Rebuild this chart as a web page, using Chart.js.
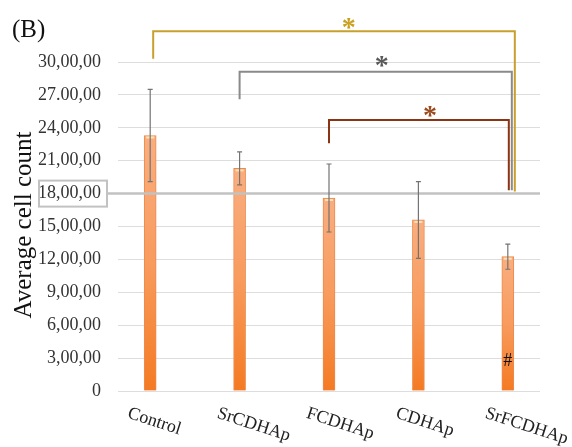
<!DOCTYPE html>
<html>
<head>
<meta charset="utf-8">
<script src="https://cdn.jsdelivr.net/npm/chart.js@4.4.0/dist/chart.umd.min.js"></script>
<style>
  html, body { margin: 0; padding: 0; background: #fff; }
  #wrap { width: 572px; height: 447px; }
</style>
</head>
<body>
<div id="wrap"><canvas id="cellChart"></canvas></div>
<script>
const groups = ['Control', 'SrCDHAp', 'FCDHAp', 'CDHAp', 'SrFCDHAp'];
const meanCount = [23.3, 20.3, 17.6, 15.6, 12.25];
const errCount = [4.2, 1.5, 3.1, 3.5, 1.15];
const tickValues = [0, 3, 6, 9, 12, 15, 18, 21, 24, 27, 30];
const tickLabels = ['0', '3,00,00', '6,00,00', '9,00,00', '12,00,00', '15,00,00',
  '18,00,00', '21,00,00', '24,00,00', '27.00,00', '30,00,00'];

// significance brackets, all ending at SrFCDHAp
const bracketFrom = [0, 1, 2];
const bracketTop = [32.8, 29.1, 24.7];
const bracketLow = [30.3, 26.6, 22.6];
const bracketEnd = [18.2, 18.3, 18.3];
const bracketColor = ['#C8A02E', '#8A8A8A', '#8B3413'];
const starColor = ['#C9A020', '#595959', '#9C4A1C'];
const starX = [2.22, 2.59, 3.13];
const starY = [33.6, 30.1, 25.5];
const hashGroup = 4;
const hashValue = 2.7;
const markedLine = 18;

const serif = "'Liberation Serif', 'Times New Roman', serif";

function barFill(ctx) {
  const chart = ctx.chart;
  const ys = chart.scales.y;
  if (!chart.chartArea || !ys) return '#F7954A';
  const top = ys.getPixelForValue(meanCount[ctx.dataIndex]);
  const bottom = ys.getPixelForValue(0);
  const g = chart.ctx.createLinearGradient(0, top, 0, bottom);
  g.addColorStop(0, '#F9AE80');
  g.addColorStop(0.5, '#F89B5E');
  g.addColorStop(1, '#F47A22');
  return g;
}

const decor = {
  id: 'decor',
  afterDatasetsDraw(chart) {
    const c = chart.ctx;
    const xs = chart.scales.x, ys = chart.scales.y;
    const area = chart.chartArea;
    c.save();
    // pale caps on bar tops
    meanCount.forEach((v, i) => {
      const x = xs.getPixelForValue(i), y = ys.getPixelForValue(v);
      c.fillStyle = '#FCE2B8';
      c.fillRect(x - 4, y + 1, 8, 2);
    });
    // the marked 18 line runs over the bars, with a box round its label
    const y18 = ys.getPixelForValue(markedLine);
    c.strokeStyle = '#c2c2c2';
    c.lineWidth = 2.5;
    c.beginPath();
    c.moveTo(area.left - 11, y18); c.lineTo(area.right, y18);
    c.stroke();
    c.lineWidth = 2;
    c.strokeRect(39, y18 - 13, area.left - 50, 26);
    // error bars
    c.strokeStyle = '#737373';
    c.lineWidth = 1.2;
    meanCount.forEach((v, i) => {
      const x = xs.getPixelForValue(i);
      const yt = ys.getPixelForValue(v + errCount[i]);
      const yb = ys.getPixelForValue(v - errCount[i]);
      c.beginPath();
      c.moveTo(x, yt); c.lineTo(x, yb);
      c.moveTo(x - 2.5, yt); c.lineTo(x + 2.5, yt);
      c.moveTo(x - 2.5, yb); c.lineTo(x + 2.5, yb);
      c.stroke();
    });
    // hash mark
    c.fillStyle = '#111';
    c.font = '18px ' + serif;
    c.textAlign = 'center';
    c.textBaseline = 'middle';
    c.fillText('#', xs.getPixelForValue(hashGroup), ys.getPixelForValue(hashValue));
    c.restore();
  },
  afterDraw(chart) {
    const c = chart.ctx;
    const xs = chart.scales.x, ys = chart.scales.y;
    const area = chart.chartArea;
    c.save();
    // brackets
    const rightShift = [7, 4, 1];
    bracketFrom.forEach((g, k) => {
      const x0 = xs.getPixelForValue(g) + (k === 0 ? 3 : 0);
      const x1 = xs.getPixelForValue(4) + rightShift[k];
      c.strokeStyle = bracketColor[k];
      c.lineWidth = 2;
      c.beginPath();
      c.moveTo(x0, ys.getPixelForValue(bracketLow[k]));
      c.lineTo(x0, ys.getPixelForValue(bracketTop[k]));
      c.lineTo(x1, ys.getPixelForValue(bracketTop[k]));
      c.lineTo(x1, ys.getPixelForValue(bracketEnd[k]));
      c.stroke();
      c.fillStyle = starColor[k];
      c.font = 'bold 28px ' + serif;
      c.textAlign = 'center';
      c.textBaseline = 'alphabetic';
      c.fillText('*', xs.getPixelForValue(starX[k]), ys.getPixelForValue(starY[k]) + 13);
    });

    // panel letter
    c.fillStyle = '#111';
    c.font = '25px ' + serif;
    c.textAlign = 'left';
    c.textBaseline = 'alphabetic';
    c.fillText('(B)', 12, 37);

    // y title
    c.save();
    c.translate(31, 225);
    c.rotate(-Math.PI / 2);
    c.font = '25px ' + serif;
    c.textAlign = 'center';
    c.fillText('Average cell count', 0, 0);
    c.restore();

    // slanted category labels
    c.font = '18px ' + serif;
    c.fillStyle = '#222';
    groups.forEach((name, i) => {
      c.save();
      c.translate(xs.getPixelForValue(i) - 22, area.bottom + 22);
      c.rotate(18 * Math.PI / 180);
      c.textAlign = 'left';
      c.textBaseline = 'middle';
      c.fillText(name, 0, 0);
      c.restore();
    });
    c.restore();
  }
};

new Chart(document.getElementById('cellChart'), {
  type: 'bar',
  data: {
    datasets: [{
      label: 'Average cell count',
      data: meanCount.map((v, i) => ({ x: i, y: v })),
      backgroundColor: barFill,
      borderColor: '#EC8A4C',
      borderWidth: 1,
      barThickness: 12
    }]
  },
  options: {
    responsive: true,
    maintainAspectRatio: false,
    animation: false,
    layout: { padding: { top: 62, right: 32, bottom: 56, left: 0 } },
    plugins: { legend: { display: false }, tooltip: { enabled: false } },
    scales: {
      x: {
        type: 'linear',
        offset: false,
        min: -0.36,
        max: 4.36,
        display: false
      },
      y: {
        min: 0,
        max: 30,
        afterFit: (s) => { s.width = 118; },
        border: { display: false },
        grid: {
          drawTicks: false,
          color: '#dddddd',
          lineWidth: 1
        },
        ticks: {
          stepSize: 3,
          padding: 17,
          color: '#333',
          font: { family: serif, size: 18 },
          callback: (v) => tickLabels[tickValues.indexOf(v)]
        }
      }
    }
  },
  plugins: [decor]
});
</script>
</body>
</html>
